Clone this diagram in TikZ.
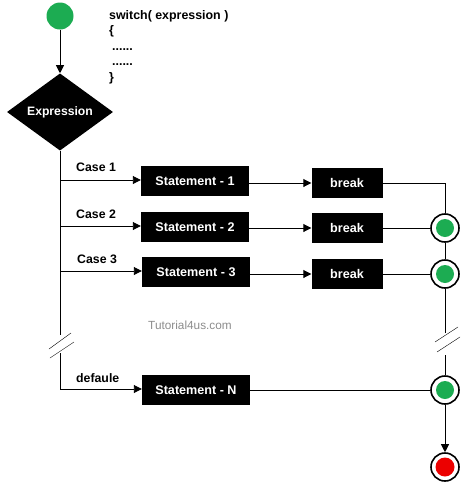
\documentclass[tikz,border=0pt]{standalone}
\usepackage{fontspec}
\setmainfont{Liberation Sans}
\usetikzlibrary{shapes.geometric,arrows.meta}
\definecolor{startgreen}{RGB}{28,172,82}
\definecolor{stopred}{RGB}{236,0,0}

\begin{document}
\begin{tikzpicture}[x=1pt,y=-1pt,
  thick line/.style={line width=0.9pt},
  flow/.style={thick line,-{Triangle[length=8pt,width=8pt]}},
  blackbox/.style={fill=black,text=white,inner sep=0pt,
    font=\bfseries\fontsize{12.6}{14}\selectfont},
  stmt/.style={blackbox,minimum width=108pt,minimum height=30pt},
  brk/.style={blackbox,minimum width=71pt,minimum height=30pt},
  caselabel/.style={anchor=south west,inner sep=0pt,
    font=\bfseries\fontsize{12.3}{14}\selectfont},
  mergept/.style={circle,draw=black,line width=1.6pt,fill=white,minimum size=28pt,
    inner sep=0pt,path picture={\fill[startgreen] (path picture bounding box.center) circle (9pt);}},
  finish/.style={mergept,path picture={\fill[stopred] (path picture bounding box.center) circle (9.5pt);}}]
\useasboundingbox (0,0) rectangle (474,493);

\node[circle,fill=startgreen,minimum size=27pt,inner sep=0pt] (start) at (60,16) {};
\node[diamond,fill=black,text=white,minimum width=106pt,minimum height=70pt,inner sep=0pt,
  font=\bfseries\fontsize{12.2}{14}\selectfont] (expr) at (60,112) {Expression};
\node[anchor=north west,align=left,inner sep=0pt,
  font=\bfseries\fontsize{12.4}{15.5}\selectfont] (code) at (109,10)
  {switch( expression )\\ \{\\ \hspace{3pt}......\\ \hspace{3pt}......\\ \}};

% statement boxes
\node[stmt] (st1) at (195,181) {Statement - 1};
\node[stmt] (st2) at (195,227) {Statement - 2};
\node[stmt] (st3) at (196,272) {Statement - 3};
\node[stmt] (stN) at (196,390) {Statement - N};

\node[brk] (br1) at (347,183) {break};
\node[brk] (br2) at (347,228) {break};
\node[brk] (br3) at (347,274) {break};

\node[mergept] (j2) at (445,228) {};
\node[mergept] (j3) at (445,274) {};
\node[mergept] (jN) at (445,390) {};
\node[finish] (stop) at (445,467) {};

\node[text=black!45,font=\fontsize{11.8}{14}\selectfont] (mark) at (190,325) {Tutorial4us.com};

\coordinate (c1) at (60,180);
\coordinate (c2) at (60,226);
\coordinate (c3) at (60,271);
\coordinate (cN) at (60,389);
\coordinate (lcut1) at (60,335);
\coordinate (lcut2) at (60,353);
\coordinate (r1) at (445,183);
\coordinate (rcut1) at (445,333);
\coordinate (rcut2) at (445,355);

\draw[flow] (start) -- (expr.north);
\draw[thick line] (expr.south) -- (lcut1);
\draw[thick line] (lcut2) -- (cN);

\draw[flow] (c1) -- (st1.west |- c1);
\draw[flow] (c2) -- (st2.west |- c2);
\draw[flow] (c3) -- (st3.west |- c3);
\draw[flow] (cN) -- (stN.west |- cN);

\node[caselabel] at (76,172) {Case 1};
\node[caselabel] at (76,219) {Case 2};
\node[caselabel] at (77,264) {Case 3};
\node[caselabel] at (76,383) {defaule};

\draw[flow] (st1.east |- br1) -- (br1.west);
\draw[flow] (st2.east |- br2) -- (br2.west);
\draw[flow] (st3.east |- br3) -- (br3.west);

\draw[thick line] (br1.east) -- (r1) -- (j2.north);
\draw[thick line] (br2.east) -- (j2.west);
\draw[thick line] (br3.east) -- (j3.west);
\draw[thick line] (stN.east |- jN) -- (jN.west);
\draw[thick line] (j2.south) -- (j3.north);
\draw[thick line] (j3.south) -- (rcut1);
\draw[thick line] (rcut2) -- (jN.north);
\draw[flow] (jN.south) -- (stop.north);

% cut marks
\draw[thin] ([shift={(-11,14)}]lcut1) -- ++(22,-16);
\draw[thin] ([shift={(-10,5)}]lcut2) -- ++(24,-16);
\draw[thin] ([shift={(-10,9)}]rcut1) -- ++(23,-15);
\draw[thin] ([shift={(-8,-3)}]rcut2) -- ++(23,-15);

\end{tikzpicture}
\end{document}
